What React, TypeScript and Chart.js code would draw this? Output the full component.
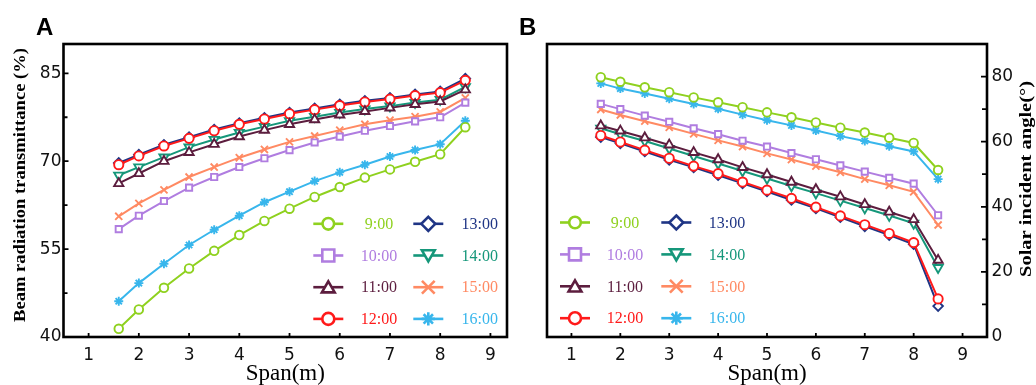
import React, { useEffect, useRef } from 'react';
import { Chart, registerables } from 'chart.js';

Chart.register(...registerables);

// ---------- DATA ----------
const spans = [1.6, 2, 2.5, 3, 3.5, 4, 4.5, 5, 5.5, 6, 6.5, 7, 7.5, 8, 8.5];
const times = ['9:00', '10:00', '11:00', '12:00', '13:00', '14:00', '15:00', '16:00'];

// Panel A: beam radiation transmittance (%)
const transA900 = [41.4, 44.7, 48.4, 51.7, 54.7, 57.4, 59.8, 61.9, 63.9, 65.6, 67.2, 68.6, 69.9, 71.2, 75.8];
const transA1000 = [58.4, 60.7, 63.2, 65.5, 67.3, 69.0, 70.5, 71.9, 73.2, 74.2, 75.2, 76.0, 76.8, 77.5, 80.0];
const transA1100 = [66.2, 67.9, 70.0, 71.5, 72.9, 74.2, 75.3, 76.3, 77.1, 77.9, 78.5, 79.1, 79.7, 80.2, 82.2];
const transA1200 = [69.4, 70.9, 72.6, 73.9, 75.2, 76.3, 77.2, 78.1, 78.8, 79.5, 80.1, 80.6, 81.2, 81.7, 83.8];
const transA1300 = [69.7, 71.1, 72.8, 74.1, 75.4, 76.5, 77.4, 78.3, 79.0, 79.7, 80.3, 80.8, 81.4, 81.9, 84.1];
const transA1400 = [67.6, 69.0, 70.7, 72.4, 73.7, 74.9, 75.9, 76.9, 77.6, 78.3, 78.9, 79.4, 80.0, 80.5, 82.7];
const transA1500 = [60.6, 62.8, 65.1, 67.3, 69.0, 70.6, 72.0, 73.3, 74.3, 75.3, 76.3, 77.0, 77.6, 78.4, 80.8];
const transA1600 = [46.1, 49.2, 52.5, 55.7, 58.3, 60.7, 63.0, 64.8, 66.6, 68.1, 69.4, 70.8, 71.9, 72.9, 76.9];

// Panel B: solar incident angle (°)
const angleB900 = [79.8, 78.4, 76.7, 75.2, 73.6, 72.1, 70.6, 69.0, 67.5, 65.9, 64.3, 62.8, 61.2, 59.6, 51.3];
const angleB1000 = [71.6, 70.0, 68.0, 66.1, 64.1, 62.3, 60.3, 58.5, 56.5, 54.6, 52.7, 50.8, 48.9, 47.1, 37.4];
const angleB1100 = [64.9, 63.3, 61.2, 59.0, 56.7, 54.5, 52.1, 49.9, 47.6, 45.3, 43.1, 40.7, 38.4, 36.1, 23.6];
const angleB1200 = [61.9, 59.9, 57.4, 54.9, 52.5, 50.2, 47.6, 45.1, 42.6, 39.9, 37.2, 34.5, 31.8, 29.0, 11.7];
const angleB1300 = [61.4, 59.5, 57.0, 54.4, 52.1, 49.7, 47.2, 44.7, 42.1, 39.5, 36.8, 34.0, 31.3, 28.5, 9.5];
const angleB1400 = [64.1, 62.3, 60.2, 57.9, 55.6, 53.3, 51.0, 48.7, 46.4, 44.2, 41.9, 39.6, 37.3, 34.9, 21.3];
const angleB1500 = [69.9, 68.2, 66.3, 64.4, 62.4, 60.4, 58.5, 56.4, 54.5, 52.5, 50.6, 48.5, 46.6, 44.6, 34.4];
const angleB1600 = [77.9, 76.3, 74.8, 73.2, 71.6, 70.1, 68.3, 66.6, 65.0, 63.4, 61.7, 60.2, 58.6, 57.0, 48.5];

const seriesA = [transA900, transA1000, transA1100, transA1200, transA1300, transA1400, transA1500, transA1600];
const seriesB = [angleB900, angleB1000, angleB1100, angleB1200, angleB1300, angleB1400, angleB1500, angleB1600];

// Tick values
const xTicks = [1, 2, 3, 4, 5, 6, 7, 8, 9];
const yTicksA = [40, 55, 70, 85];
const yMinorA = [47.5, 62.5, 77.5];
const yTicksB = [0, 20, 40, 60, 80];
const yMinorB = [10, 30, 50, 70];

const titleA = 'Beam radiation transmittance (%)';
const titleB = 'Solar incident angle(°)';
const xTitle = 'Span(m)';

// ---------- STYLES ----------
type Sty = { color: string; point: string; rot: number; r: number; lr: number };
const styles: Sty[] = [
  { color: '#8fd11f', point: 'circle', rot: 0, r: 4.3, lr: 5.8 },
  { color: '#b07de0', point: 'rect', rot: 0, r: 4.4, lr: 6 },
  { color: '#5c1d3e', point: 'triangle', rot: 0, r: 5.3, lr: 7.4 },
  { color: '#ff1a1a', point: 'circle', rot: 0, r: 4.6, lr: 6 },
  { color: '#1f3585', point: 'rectRot', rot: 0, r: 4.8, lr: 7 },
  { color: '#15977a', point: 'triangle', rot: 180, r: 5.3, lr: 7.4 },
  { color: '#ff8a63', point: 'crossRot', rot: 0, r: 5, lr: 7.2 },
  { color: '#38b6ec', point: 'star', rot: 0, r: 4.5, lr: 6.6 },
];

const tickFont = { family: '"DejaVu Sans", sans-serif', size: 17 };
const serif = '"Liberation Serif", "Times New Roman", serif';

function drawMarker(ctx: CanvasRenderingContext2D, s: Sty, x: number, y: number, r: number, lw: number) {
  ctx.save();
  ctx.strokeStyle = s.color;
  ctx.fillStyle = '#fff';
  ctx.lineWidth = lw;
  ctx.beginPath();
  if (s.point === 'circle') {
    ctx.arc(x, y, r, 0, Math.PI * 2);
    ctx.fill();
    ctx.stroke();
  } else if (s.point === 'rect') {
    ctx.rect(x - r, y - r, 2 * r, 2 * r);
    ctx.fill();
    ctx.stroke();
  } else if (s.point === 'triangle') {
    const rot = (s.rot * Math.PI) / 180;
    for (let i = 0; i < 3; i++) {
      const a = -Math.PI / 2 + rot + (i * 2 * Math.PI) / 3;
      const px = x + r * Math.cos(a);
      const py = y + r * Math.sin(a) + (s.rot ? -r * 0.2 : r * 0.2);
      if (i === 0) ctx.moveTo(px, py);
      else ctx.lineTo(px, py);
    }
    ctx.closePath();
    ctx.fill();
    ctx.stroke();
  } else if (s.point === 'rectRot') {
    ctx.moveTo(x, y - r);
    ctx.lineTo(x + r, y);
    ctx.lineTo(x, y + r);
    ctx.lineTo(x - r, y);
    ctx.closePath();
    ctx.fill();
    ctx.stroke();
  } else if (s.point === 'crossRot') {
    const d = r * Math.SQRT1_2 * 1.25;
    ctx.moveTo(x - d, y - d);
    ctx.lineTo(x + d, y + d);
    ctx.moveTo(x + d, y - d);
    ctx.lineTo(x - d, y + d);
    ctx.stroke();
  } else if (s.point === 'star') {
    for (let i = 0; i < 4; i++) {
      const a = (i * Math.PI) / 4;
      ctx.moveTo(x - r * Math.cos(a), y - r * Math.sin(a));
      ctx.lineTo(x + r * Math.cos(a), y + r * Math.sin(a));
    }
    ctx.stroke();
  }
  ctx.restore();
}

type Deco = {
  letter: string;
  letterX: number;
  yMinor: number[];
  yTicks: number[];
  ySide: 'left' | 'right';
  legend: { c1m: number; c1t: number; c2m: number; c2t: number; rows: number[] };
  yTitle: { text: string; x: number; y: number; len: number };
};

const decoPlugin = {
  id: 'deco',
  afterDraw(chart: any, _args: any, opts: Deco) {
    const ctx: CanvasRenderingContext2D = chart.ctx;
    const { left, right, top, bottom } = chart.chartArea;
    const xs = chart.scales.x;
    const ys = chart.scales.y;
    ctx.save();
    // frame
    ctx.strokeStyle = '#000';
    ctx.lineWidth = 2.6;
    ctx.strokeRect(left, top, right - left, bottom - top);
    // inward ticks
    ctx.lineWidth = 1.8;
    ctx.beginPath();
    xTicks.forEach((v) => {
      const px = xs.getPixelForValue(v);
      ctx.moveTo(px, bottom);
      ctx.lineTo(px, bottom - 4);
    });
    const yAll = opts.yTicks.map((v) => [v, 5]).concat(opts.yMinor.map((v) => [v, 4]));
    yAll.forEach(([v, len]) => {
      const py = ys.getPixelForValue(v);
      if (opts.ySide === 'left') {
        ctx.moveTo(left, py);
        ctx.lineTo(left + len, py);
      } else {
        ctx.moveTo(right, py);
        ctx.lineTo(right - len - 1, py);
      }
    });
    ctx.stroke();

    // panel letter
    ctx.fillStyle = '#000';
    ctx.font = 'bold 24px "Liberation Sans", Arial, sans-serif';
    ctx.textAlign = 'left';
    ctx.textBaseline = 'alphabetic';
    ctx.fillText(opts.letter, opts.letterX, 35);

    // y title (rotated, reading bottom to top)
    const yt = opts.yTitle;
    ctx.save();
    ctx.font = `bold 17.5px ${serif}`;
    const w = ctx.measureText(yt.text).width;
    ctx.translate(yt.x, yt.y);
    ctx.rotate(-Math.PI / 2);
    ctx.scale(yt.len / w, 1);
    ctx.textAlign = 'center';
    ctx.textBaseline = 'middle';
    ctx.fillStyle = '#000';
    ctx.fillText(yt.text, 0, 0);
    ctx.restore();

    // legend
    const lg = opts.legend;
    times.forEach((t, i) => {
      const s = styles[i];
      const col = i < 4 ? 0 : 1;
      const row = i % 4;
      const mx = col === 0 ? lg.c1m : lg.c2m;
      const tx = col === 0 ? lg.c1t : lg.c2t;
      const y = lg.rows[row];
      ctx.strokeStyle = s.color;
      ctx.lineWidth = 2.6;
      ctx.beginPath();
      ctx.moveTo(mx - 15, y);
      ctx.lineTo(mx + 15, y);
      ctx.stroke();
      drawMarker(ctx, s, mx, y, s.lr, 2.6);
      ctx.fillStyle = s.color;
      ctx.font = `16px ${serif}`;
      ctx.textAlign = 'center';
      ctx.textBaseline = 'middle';
      ctx.fillText(t, tx, y + 1);
    });
    ctx.restore();
  },
};

function makeDatasets(series: number[][]) {
  return series.map((vals, i) => {
    const s = styles[i];
    return {
      label: times[i],
      data: spans.map((x, j) => ({ x, y: vals[j] })),
      borderColor: s.color,
      backgroundColor: '#ffffff',
      borderWidth: 2,
      pointStyle: s.point,
      pointRotation: s.rot,
      pointRadius: s.r,
      pointBorderWidth: 1.9,
      pointBackgroundColor: '#ffffff',
      pointBorderColor: s.color,
      tension: 0,
      fill: false,
    };
  });
}

function xScale(max: number): any {
  return {
    type: 'linear',
    min: 0.5,
    max,
    afterBuildTicks: (s: any) => {
      s.ticks = xTicks.map((v) => ({ value: v }));
    },
    afterFit: (s: any) => {
      s.height = 48;
    },
    grid: { display: false, drawTicks: false },
    border: { display: false },
    ticks: { font: tickFont, color: '#111', padding: 8, maxRotation: 0, autoSkip: false },
    title: {
      display: true,
      text: xTitle,
      color: '#000',
      font: { family: serif, size: 23, lineHeight: 1 },
      padding: { top: 0, bottom: 0 },
    },
  };
}

function configA(): any {
  return {
    type: 'line',
    data: { datasets: makeDatasets(seriesA) },
    options: {
      responsive: false,
      animation: false,
      events: [],
      layout: { padding: { top: 44, right: 11, left: 0, bottom: 0 } },
      plugins: {
        legend: { display: false },
        tooltip: { enabled: false },
        deco: {
          letter: 'A',
          letterX: 36,
          yMinor: yMinorA,
          yTicks: yTicksA,
          ySide: 'left',
          legend: { c1m: 328.3, c1t: 379, c2m: 428.3, c2t: 479.7, rows: [223.8, 255.5, 287.2, 318.9] },
          yTitle: { text: titleA, x: 20.5, y: 185, len: 274 },
        },
      },
      scales: {
        x: xScale(9.33),
        y: {
          type: 'linear',
          min: 40,
          max: 90,
          afterBuildTicks: (s: any) => {
            s.ticks = yTicksA.map((v) => ({ value: v }));
          },
          afterFit: (s: any) => {
            s.width = 63.5;
          },
          grid: { display: false, drawTicks: false },
          border: { display: false },
          ticks: { font: tickFont, color: '#111', padding: 2 },
        },
      },
    },
    plugins: [decoPlugin],
  };
}

function configB(): any {
  return {
    type: 'line',
    data: { datasets: makeDatasets(seriesB) },
    options: {
      responsive: false,
      animation: false,
      events: [],
      layout: { padding: { top: 44, right: 0, left: 29, bottom: 0 } },
      plugins: {
        legend: { display: false },
        tooltip: { enabled: false },
        deco: {
          letter: 'B',
          letterX: 1,
          yMinor: yMinorB,
          yTicks: yTicksB,
          ySide: 'right',
          legend: { c1m: 57, c1t: 107, c2m: 158.3, c2t: 209, rows: [222.5, 254.4, 286.3, 318.2] },
          yTitle: { text: titleB, x: 508.5, y: 179, len: 196 },
        },
      },
      scales: {
        x: xScale(9.5),
        y: {
          type: 'linear',
          position: 'right',
          min: 0,
          max: 90,
          afterBuildTicks: (s: any) => {
            s.ticks = yTicksB.map((v) => ({ value: v }));
          },
          afterFit: (s: any) => {
            s.width = 49;
          },
          grid: { display: false, drawTicks: false },
          border: { display: false },
          ticks: { font: tickFont, color: '#111', padding: 4.5 },
        },
      },
    },
    plugins: [decoPlugin],
  };
}

function Panel({ make, left }: { make: () => any; left: number }) {
  const ref = useRef<HTMLCanvasElement | null>(null);
  useEffect(() => {
    if (!ref.current) return;
    const chart = new Chart(ref.current, make());
    return () => chart.destroy();
  }, [make]);
  return (
    <canvas
      ref={ref}
      width={518}
      height={385}
      style={{ position: 'absolute', left, top: 0, width: 518, height: 385, display: 'block' }}
    />
  );
}

export default function App() {
  return (
    <div style={{ position: 'absolute', left: 0, top: 0, width: 1036, height: 385, background: '#fff', overflow: 'hidden' }}>
      <Panel make={configA} left={0} />
      <Panel make={configB} left={518} />
    </div>
  );
}
